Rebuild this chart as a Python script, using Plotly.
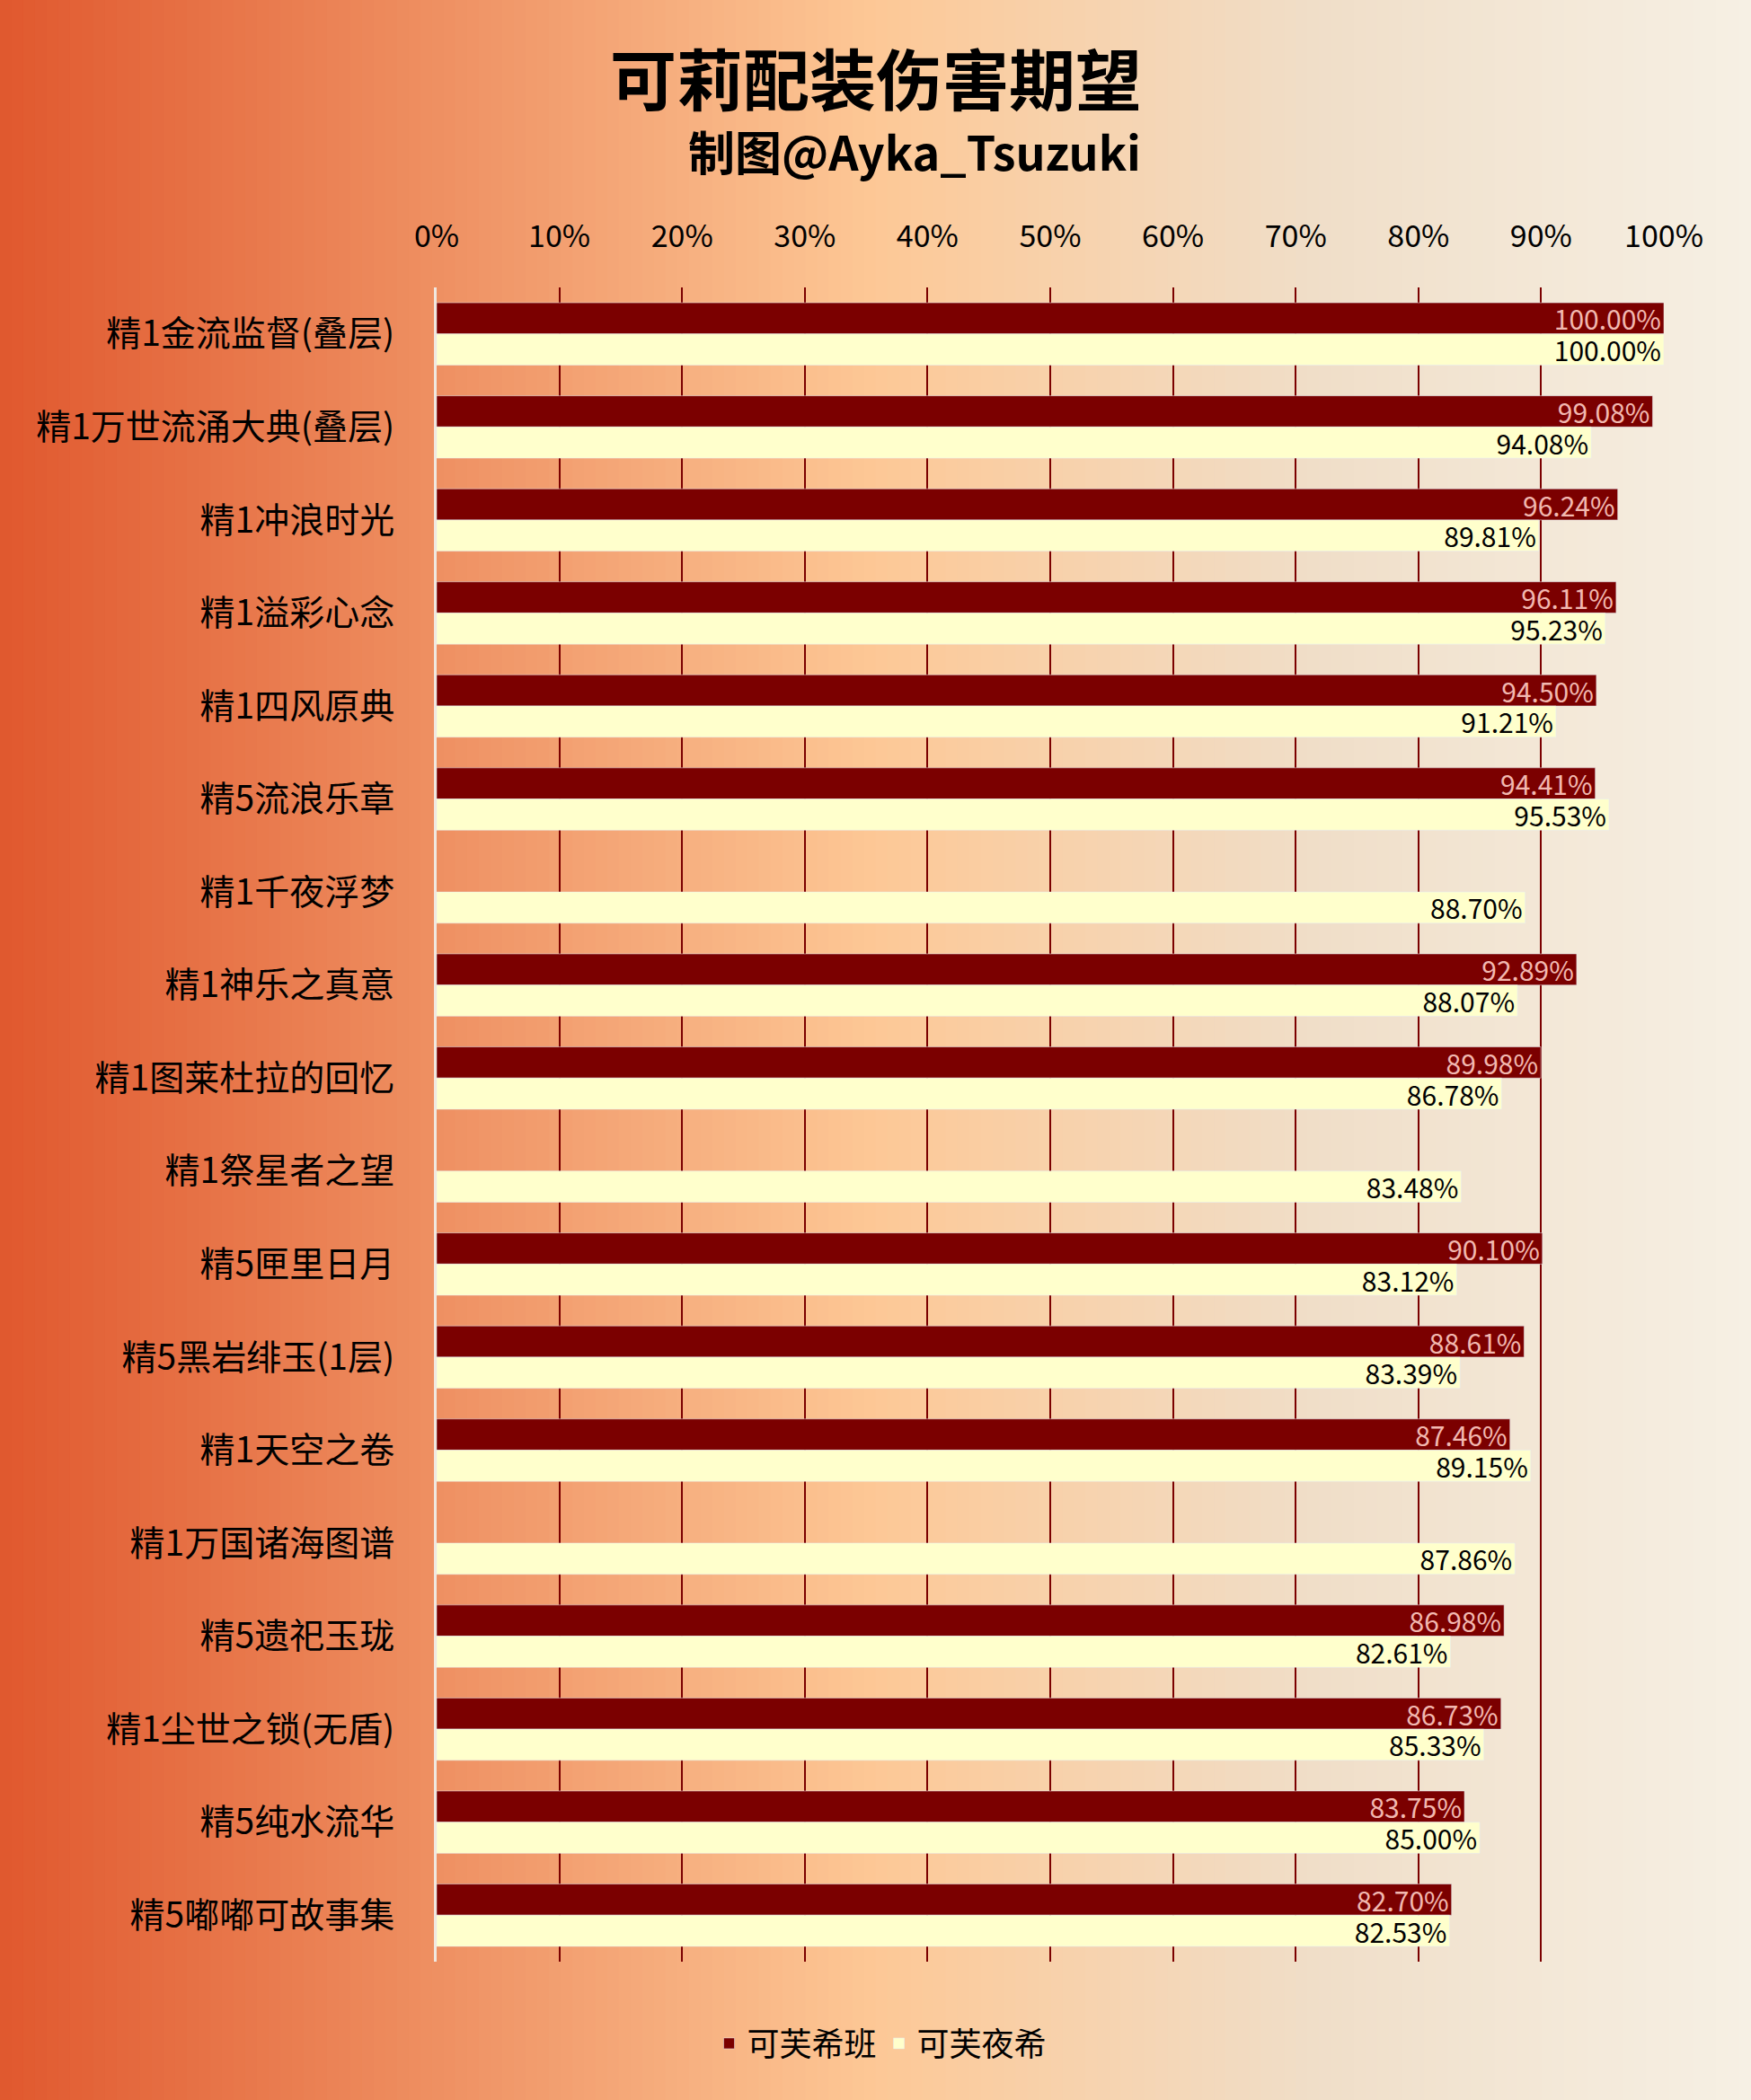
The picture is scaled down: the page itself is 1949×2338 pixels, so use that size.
import plotly.graph_objects as go

categories = ["精1金流监督(叠层)", "精1万世流涌大典(叠层)", "精1冲浪时光", "精1溢彩心念", "精1四风原典",
              "精5流浪乐章", "精1千夜浮梦", "精1神乐之真意", "精1图莱杜拉的回忆", "精1祭星者之望",
              "精5匣里日月", "精5黑岩绯玉(1层)", "精1天空之卷", "精1万国诸海图谱", "精5遗祀玉珑",
              "精1尘世之锁(无盾)", "精5纯水流华", "精5嘟嘟可故事集"]
series_a = [100.00, 99.08, 96.24, 96.11, 94.50, 94.41, None, 92.89, 89.98, None,
            90.10, 88.61, 87.46, None, 86.98, 86.73, 83.75, 82.70]
series_b = [100.00, 94.08, 89.81, 95.23, 91.21, 95.53, 88.70, 88.07, 86.78, 83.48,
            83.12, 83.39, 89.15, 87.86, 82.61, 85.33, 85.00, 82.53]
ticks = [0, 10, 20, 30, 40, 50, 60, 70, 80, 90, 100]

FONT = "Noto Sans CJK SC"
fig = go.Figure()
fig.add_trace(go.Bar(y=categories, x=series_a, orientation="h", name="可芙希班",
                     marker=dict(color="#7B0000"),
                     text=[f"{v:.2f}%" if v is not None else "" for v in series_a],
                     textposition="inside", insidetextanchor="end", constraintext="none",
                     textfont=dict(color="#F2B8B0", size=30, family=FONT)))
fig.add_trace(go.Bar(y=categories, x=series_b, orientation="h", name="可芙夜希",
                     marker=dict(color="#FFFFCC"),
                     text=[f"{v:.2f}%" for v in series_b],
                     textposition="inside", insidetextanchor="end", constraintext="none",
                     textfont=dict(color="#000000", size=30, family=FONT)))

L, R, T, B = 486, 97, 320, 154
PW = 1949 - L - R
PH = 2338 - T - B
x_left = -L / PW
x_right = 1 + R / PW

shapes = []
N = 150
def lerp(c1, c2, t):
    return tuple(int(round(a + (b - a) * t)) for a, b in zip(c1, c2))
stops = [(0.0, (224, 88, 46)), (0.5, (253, 200, 150)), (0.75, (240, 222, 200)), (1.0, (246, 240, 228))]
for i in range(N):
    t = (i + 0.5) / N
    for j in range(len(stops) - 1):
        if stops[j][0] <= t <= stops[j + 1][0]:
            tt = (t - stops[j][0]) / (stops[j + 1][0] - stops[j][0])
            c = lerp(stops[j][1], stops[j + 1][1], tt)
            break
    x0 = x_left + (x_right - x_left) * i / N
    x1 = x_left + (x_right - x_left) * (i + 1) / N + 0.002
    if i == 0:
        x0 -= 0.05
    if i == N - 1:
        x1 += 0.05
    shapes.append(dict(type="rect", xref="paper", yref="paper", layer="below",
                       x0=x0, x1=x1, y0=-1, y1=2,
                       line=dict(width=0), fillcolor=f"rgb{c}"))

def px_x(px):
    return (px - L) / PW

def px_y(py):
    return (2338 - B - py) / PH

fig.update_layout(
    width=1949, height=2338,
    margin=dict(l=L, r=R, t=T, b=B),
    paper_bgcolor="rgb(224,88,46)", plot_bgcolor="rgba(0,0,0,0)",
    shapes=shapes,
    barmode="group", bargap=0.33, bargroupgap=0,
    font=dict(family=FONT, color="#000000"),
    showlegend=True,
    legend=dict(orientation="h", x=px_x(981), xanchor="center", y=px_y(2245), yanchor="top",
                font=dict(size=36, family=FONT), bgcolor="rgba(0,0,0,0)"),
    annotations=[
        dict(text="<b>可莉配装伤害期望</b>", xref="paper", yref="paper", x=px_x(975), y=px_y(84),
             xanchor="center", yanchor="middle", showarrow=False, font=dict(size=74, family=FONT)),
        dict(text="<b>制图@Ayka_Tsuzuki</b>", xref="paper", yref="paper", x=px_x(1018), y=px_y(168),
             xanchor="center", yanchor="middle", showarrow=False, font=dict(size=52, family=FONT)),
    ],
)
fig.update_xaxes(range=[0, 100], side="top", tickvals=ticks, ticktext=[f"{t}%" for t in ticks],
                 showgrid=True, gridcolor="#7B0000", gridwidth=2, zeroline=False,
                 tickfont=dict(size=34, family=FONT), ticks="outside", ticklen=30,
                 tickcolor="rgba(0,0,0,0)", fixedrange=True)
fig.update_yaxes(autorange="reversed", tickfont=dict(size=39, family=FONT), showline=True,
                 linecolor="#F0E8E0", linewidth=3, ticks="outside", ticklen=36,
                 tickcolor="rgba(0,0,0,0)")
fig.write_html("out.html", config={"displayModeBar": False},
               post_script="document.body.style.margin='0';")
